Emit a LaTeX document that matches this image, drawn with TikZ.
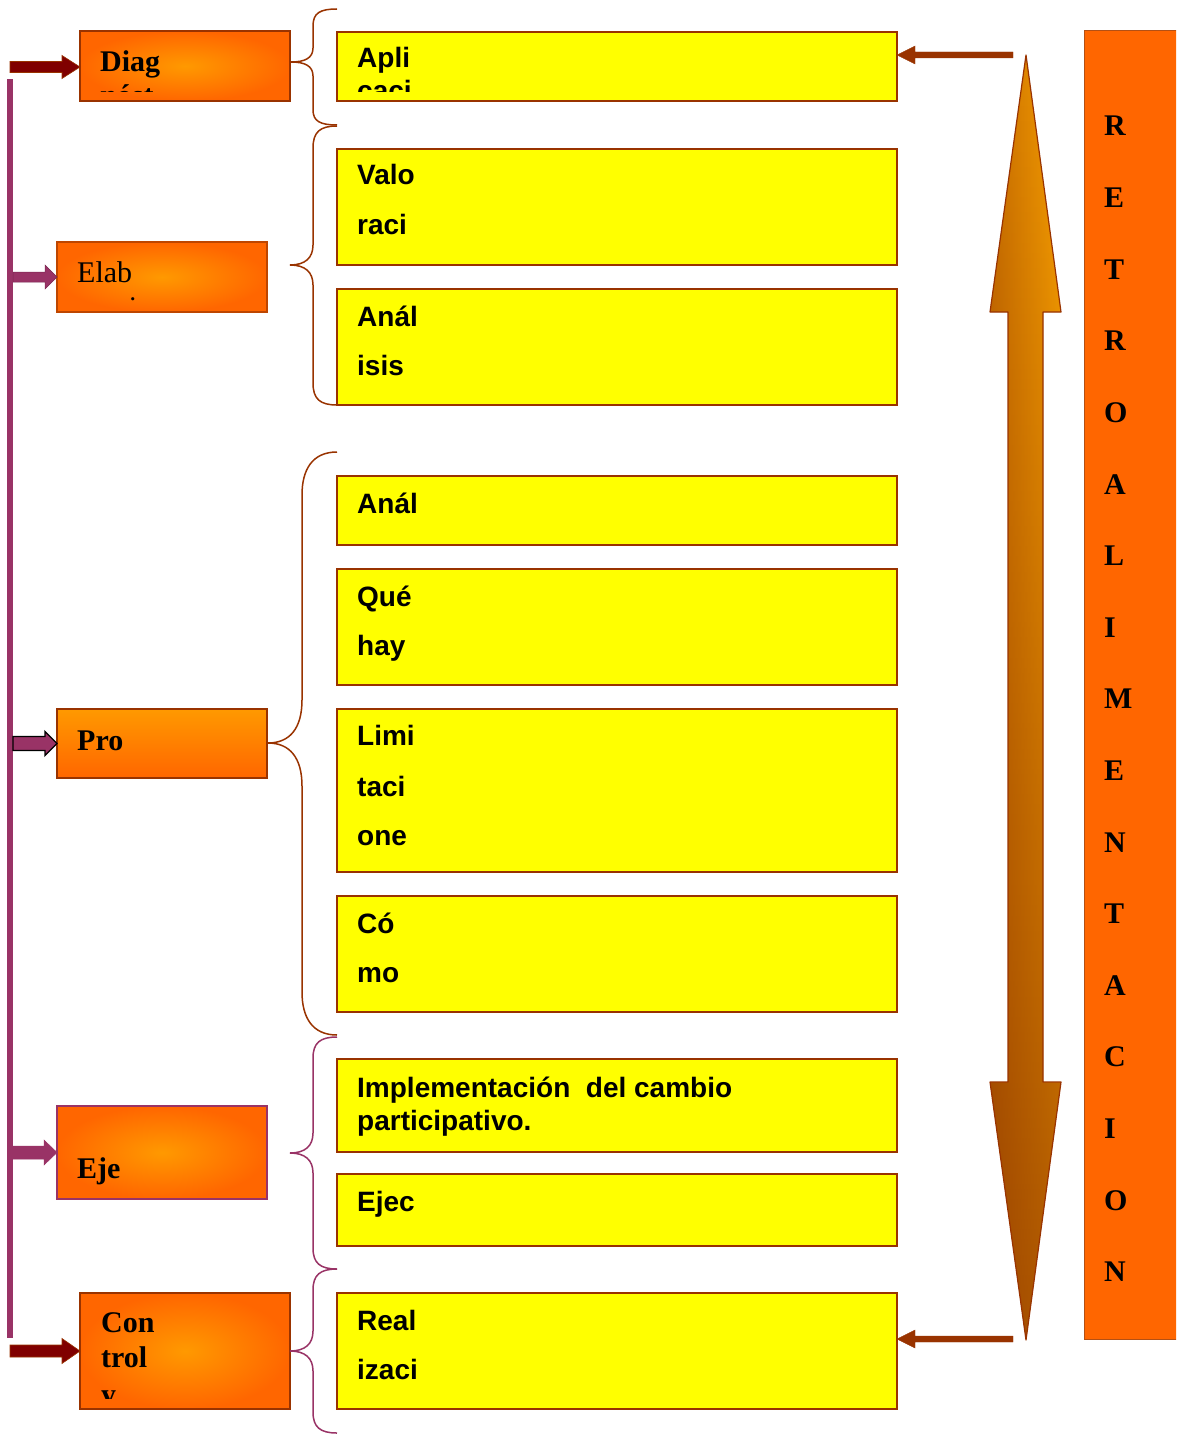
\documentclass[tikz,border=0pt]{standalone}
\usepackage{fontspec}
\setmainfont{Liberation Serif}
\setsansfont{Liberation Sans}
\usetikzlibrary{calc,fadings}
\definecolor{ylw}{HTML}{FFFF00}
\definecolor{brn}{HTML}{993300}
\definecolor{plum}{HTML}{993366}
\definecolor{dred}{HTML}{800000}
\definecolor{org}{HTML}{FF6600}
\definecolor{lorg}{HTML}{FF9900}
\definecolor{arrL}{RGB}{200,110,0}
\definecolor{arrR}{RGB}{248,160,0}
\definecolor{arrD}{RGB}{120,35,0}
\tikzfading[name=fadeup, top color=transparent!100, bottom color=transparent!0]
\newcommand{\blockarrow}[6]{%
  \draw[#1] let \p1=(#2), \p2=(#3) in
    (\x1,{\y1+#4pt}) -- ({\x2-(#6pt)},{\y1+#4pt}) -- ({\x2-(#6pt)},{\y1+#5pt}) -- (\x2,\y1)
    -- ({\x2-(#6pt)},{\y1-#5pt}) -- ({\x2-(#6pt)},{\y1-#4pt}) -- (\x1,{\y1-#4pt}) -- cycle;
}
\tikzset{
  ybox/.style={draw=brn, line width=2pt, fill=ylw, rectangle, inner sep=0pt, outer sep=0pt, anchor=north west, minimum width=560pt},
  obox/.style={draw=brn, line width=1.5pt, rectangle, inner sep=0pt, outer sep=0pt, anchor=north west, minimum width=210pt, inner color=lorg, outer color=org},
  st/.style={anchor=base west, inner sep=0pt, font=\sffamily\bfseries\fontsize{28}{28}\selectfont},
  sb/.style={anchor=base west, inner sep=0pt, font=\rmfamily\bfseries\fontsize{30}{30}\selectfont},
  sr/.style={anchor=base west, inner sep=0pt, font=\rmfamily\fontsize{30}{30}\selectfont},
  brace/.style={line width=1.5pt},
}
\begin{document}
\begin{tikzpicture}[x=1pt,y=-1pt]
\useasboundingbox (0,0) rectangle (1176,1439);
\clip (0,0) rectangle (1176,1439);
\fill[white] (0,0) rectangle (1176,1439);

% ---------- yellow boxes ----------
\node[ybox, minimum height=69pt]  (apli)  at (337,32) {};
\node[ybox, minimum height=116pt] (valo)  at (337,149) {};
\node[ybox, minimum height=116pt] (anal1) at (337,289) {};
\node[ybox, minimum height=69pt]  (anal2) at (337,476) {};
\node[ybox, minimum height=116pt] (que)   at (337,569) {};
\node[ybox, minimum height=163pt] (limi)  at (337,709) {};
\node[ybox, minimum height=116pt] (como)  at (337,896) {};
\node[ybox, minimum height=93pt]  (impl)  at (337,1059) {};
\node[ybox, minimum height=72pt]  (ejec)  at (337,1174) {};
\node[ybox, minimum height=116pt] (real)  at (337,1293) {};

\node[st] (tApli) at (357,68) {Apli};
\begin{scope}
  \clip (337,32) rectangle (897,92);
  \node[st] (tApli2) at (357,101) {caci};
\end{scope}
\node[st] (tValo) at (357,185) {Valo};
\node[st] (tValo2) at (357,235) {raci};
\node[st] (tAnal) at (357,326) {Anál};
\node[st] (tAnal2) at (357,375) {isis};
\node[st] (tAnalB) at (357,513) {Anál};
\node[st] (tQue) at (357,606) {Qué};
\node[st] (tQue2) at (357,655) {hay};
\node[st] (tLimi) at (357,745) {Limi};
\node[st] (tLimi2) at (357,796) {taci};
\node[st] (tLimi3) at (357,845) {one};
\node[st] (tComo) at (357,933) {Có};
\node[st] (tComo2) at (357,982) {mo};
\node[st] (tImpl) at (357,1097) {Implementación\ \ del cambio};
\node[st] (tImpl2) at (357,1130) {participativo.};
\node[st] (tEjec) at (357,1211) {Ejec};
\node[st] (tReal) at (357,1330) {Real};
\node[st] (tReal2) at (357,1379) {izaci};

% ---------- orange boxes ----------
\node[obox, minimum height=70pt] (diag) at (80,31) {};
\node[obox, minimum height=70pt, draw={rgb,255:red,190;green,70;blue,0}] (elab) at (57,242) {};
\node[draw=brn, line width=1.5pt, rectangle, inner sep=0pt, outer sep=0pt, anchor=north west,
      minimum width=210pt, minimum height=69pt, top color=lorg, bottom color=org] (pro) at (57,709) {};
\node[obox, minimum height=93pt, draw=plum] (eje) at (57,1106) {};
\node[obox, minimum height=116pt] (ctrl) at (80,1293) {};

\node[sb] (tDiag) at (100,72) {Diag};
\begin{scope}
  \clip (80,31) rectangle (290,92);
  \node[sb] (tDiag2) at (100,106) {nóst};
\end{scope}
\node[sr] (tElab) at (77,282) {Elab};
\begin{scope}
  \clip (57,242) rectangle (267,301);
  \node[sr] (tElab2) at (77,317) {oraci};
\end{scope}
\node[sb] (tPro) at (77,750) {Pro};
\node[sb] (tEje) at (77,1178) {Eje};
\node[sb] (tCon) at (101,1332) {Con};
\node[sb] (tCon2) at (101,1367) {trol};
\begin{scope}
  \clip (80,1293) rectangle (290,1398);
  \node[sb] (tCon3) at (101,1404) {y};
\end{scope}

% ---------- left bar and arrows ----------
\node[fill=plum, inner sep=0pt, outer sep=0pt, minimum width=6pt, minimum height=1259pt, anchor=north west] (bar) at (7,79) {};
\coordinate (inTop) at (10,67);
\coordinate (inBot) at (10,1351);
\blockarrow{fill=dred, draw=brn, line width=0.6pt}{inTop}{diag.west |- inTop}{5.5}{11.5}{18}
\blockarrow{fill=plum, draw=plum!80!black, line width=0.5pt}{bar.east |- elab.west}{elab.west}{5}{12}{12}
\blockarrow{fill=plum, draw=black, line width=1.3pt}{bar.east |- pro.west}{pro.west}{7}{12}{12}
\blockarrow{fill=plum, draw=plum, line width=0.5pt}{bar.east |- eje.west}{eje.west}{6.5}{12.5}{13}
\blockarrow{fill=dred, draw=brn, line width=0.6pt}{inBot}{ctrl.west |- inBot}{6}{12.5}{18}

% ---------- braces ----------
\draw[brace, brn] (337,9) .. controls (320,9) and (313,13) .. (313,26)
  -- (313,48) .. controls (313,58) and (305,62) .. (291,62)
  .. controls (305,62) and (313,66) .. (313,76)
  -- (313,110) .. controls (313,121) and (320,125) .. (337,125);
\draw[brace, brn] (337,126) .. controls (320,126) and (313,132) .. (313,148)
  -- (313,245) .. controls (313,258) and (305,265) .. (290,265)
  .. controls (305,265) and (313,272) .. (313,285)
  -- (313,383) .. controls (313,399) and (320,405) .. (337,405);
\draw[brace, brn] (337,452) .. controls (312,452) and (302,470) .. (302,495)
  -- (302,700) .. controls (302,728) and (290,743) .. (268,743)
  .. controls (290,743) and (302,758) .. (302,786)
  -- (302,992) .. controls (302,1017) and (312,1035) .. (337,1035);
\draw[brace, plum] (337,1037) .. controls (320,1037) and (313,1043) .. (313,1058)
  -- (313,1133) .. controls (313,1146) and (305,1153) .. (290,1153)
  .. controls (305,1153) and (313,1160) .. (313,1173)
  -- (313,1248) .. controls (313,1263) and (320,1269) .. (337,1269);
\draw[brace, plum] (337,1269) .. controls (320,1269) and (313,1275) .. (313,1290)
  -- (313,1331) .. controls (313,1344) and (305,1351) .. (290,1351)
  .. controls (305,1351) and (313,1358) .. (313,1371)
  -- (313,1412) .. controls (313,1427) and (320,1433) .. (337,1433);

% ---------- double feedback arrow ----------
\def\dbl{(1026,55) -- (1061,312) -- (1043,312) -- (1043,1082) -- (1061,1082) -- (1026,1340)
  -- (990,1082) -- (1008,1082) -- (1008,312) -- (990,312) -- cycle}
\shade[left color=arrL, right color=arrR] \dbl;
\fill[arrD, path fading=fadeup, fill opacity=0.55] \dbl;
\draw[brn, line width=1.2pt, line join=round] \dbl;

\coordinate (fbTop) at (1013,55);
\coordinate (fbBot) at (1013,1339);
\blockarrow{fill=brn, draw=brn, line width=0.4pt}{fbTop}{apli.east |- fbTop}{3}{9}{-18}
\blockarrow{fill=brn, draw=brn, line width=0.4pt}{fbBot}{real.east |- fbBot}{3}{9}{-18}

% ---------- RETROALIMENTACION box ----------
\node[fill=org, draw={rgb,255:red,180;green,80;blue,20}, line width=1pt, rectangle, inner sep=0pt, outer sep=0pt,
      anchor=north west, minimum width=130pt, minimum height=1308pt] (retro) at (1084,31) {};
\foreach \L [count=\i from 0] in {R,E,T,R,O,A,L,I,M,E,N,T,A,C,I,O,N} {
  \node[sb] (r\i) at (1104,{136+71.6*\i}) {\L};
}
\end{tikzpicture}
\end{document}
